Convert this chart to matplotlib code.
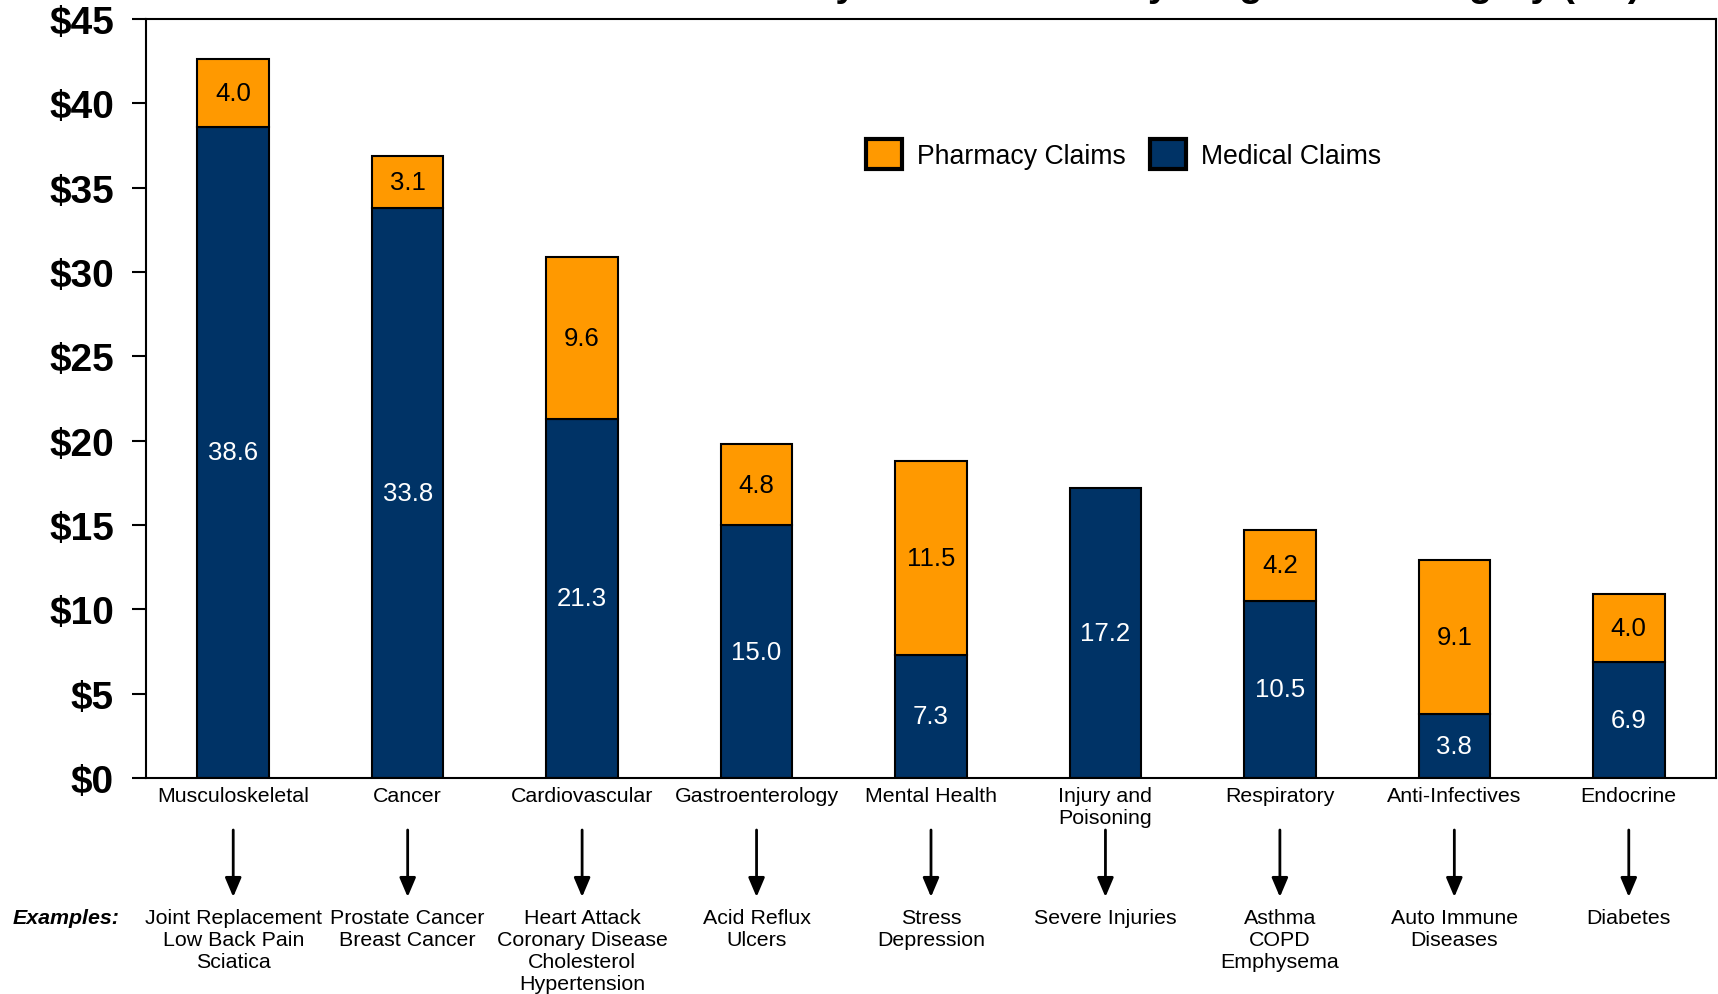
import matplotlib
matplotlib.use("Agg")
import matplotlib.pyplot as plt
from matplotlib.patches import Patch
from matplotlib.transforms import blended_transform_factory
import numpy as np

plt.rcParams["font.family"] = ["Liberation Sans", "DejaVu Sans"]

categories = ["Musculoskeletal", "Cancer", "Cardiovascular", "Gastroenterology",
              "Mental Health", "Injury and\nPoisoning", "Respiratory",
              "Anti-Infectives", "Endocrine"]
medical = [38.6, 33.8, 21.3, 15.0, 7.3, 17.2, 10.5, 3.8, 6.9]
pharmacy = [4.0, 3.1, 9.6, 4.8, 11.5, None, 4.2, 9.1, 4.0]
examples = ["Joint Replacement\nLow Back Pain\nSciatica",
            "Prostate Cancer\nBreast Cancer",
            "Heart Attack\nCoronary Disease\nCholesterol\nHypertension",
            "Acid Reflux\nUlcers",
            "Stress\nDepression",
            "Severe Injuries",
            "Asthma\nCOPD\nEmphysema",
            "Auto Immune\nDiseases",
            "Diabetes"]
yticks = [0, 5, 10, 15, 20, 25, 30, 35, 40, 45]
ytick_labels = [f"${v}" for v in yticks]
title = "Total Plan Liability: Health Costs by Diagnostic Category ($M)"

ORANGE = "#FF9900"
NAVY = "#003366"

W, H = 1718, 995
fig = plt.figure(figsize=(W / 100, H / 100), dpi=100)
ax = fig.add_axes([146 / W, 1 - 779 / H, (1716 - 146) / W, (779 - 20) / H])

x = np.arange(len(categories))
bw = 0.41
ax.bar(x, medical, width=bw, color=NAVY, edgecolor="black", linewidth=1.5, zorder=2)
for i, (m, p) in enumerate(zip(medical, pharmacy)):
    ax.text(i, m / 2, f"{m:.1f}", ha="center", va="center", color="white", fontsize=18.5)
    if p is not None:
        ax.bar(i, p, bottom=m, width=bw, color=ORANGE, edgecolor="black",
               linewidth=1.5, zorder=2)
        ax.text(i, m + p / 2, f"{p:.1f}", ha="center", va="center", color="black",
                fontsize=18.5)

ax.set_xlim(-0.5, len(categories) - 0.5)
ax.set_ylim(0, 45)
ax.set_yticks(yticks)
ax.set_yticklabels(ytick_labels, fontsize=28, fontweight="bold")
ax.tick_params(axis="y", direction="out", length=10, width=1.5, pad=13)
ax.set_xticks(x)
ax.set_xticklabels(categories, fontsize=15.4, linespacing=1.17)
ax.tick_params(axis="x", length=0, pad=6)
for s in ax.spines.values():
    s.set_linewidth(1.5)

# Legend
handles = [Patch(facecolor=ORANGE, edgecolor="black", linewidth=3, label="Pharmacy Claims"),
           Patch(facecolor=NAVY, edgecolor="black", linewidth=3, label="Medical Claims")]
fig.legend(handles=handles, loc="upper left", bbox_to_anchor=(866 / W, 1 - 140 / H),
           ncol=2, frameon=False, fontsize=19.2, handlelength=1.36, handleheight=1.36,
           handletextpad=0.55, columnspacing=0.9, borderpad=0, borderaxespad=0)

# Arrows and examples below each category
trans = blended_transform_factory(ax.transData, fig.transFigure)
for i, ex in enumerate(examples):
    ax.annotate("", xy=(i, 1 - 898 / H), xytext=(i, 1 - 831 / H),
                xycoords=trans, textcoords=trans, annotation_clip=False,
                arrowprops=dict(arrowstyle="-|>,head_length=0.4,head_width=0.17",
                                lw=2, color="black", mutation_scale=29,
                                shrinkA=0, shrinkB=0))
    ax.text(i, 1 - 909 / H, ex, transform=trans, ha="center", va="top",
            fontsize=15.4, linespacing=1.2, multialignment="center")

fig.text(13 / W, 1 - 909 / H, "Examples:", ha="left", va="top", fontsize=15.4,
         fontweight="bold", fontstyle="italic")

fig.text(1640 / W, 1 + 4 / H, title, ha="right", va="baseline", fontsize=27.5,
         fontweight="bold")

fig.savefig("out.png", dpi=100)
